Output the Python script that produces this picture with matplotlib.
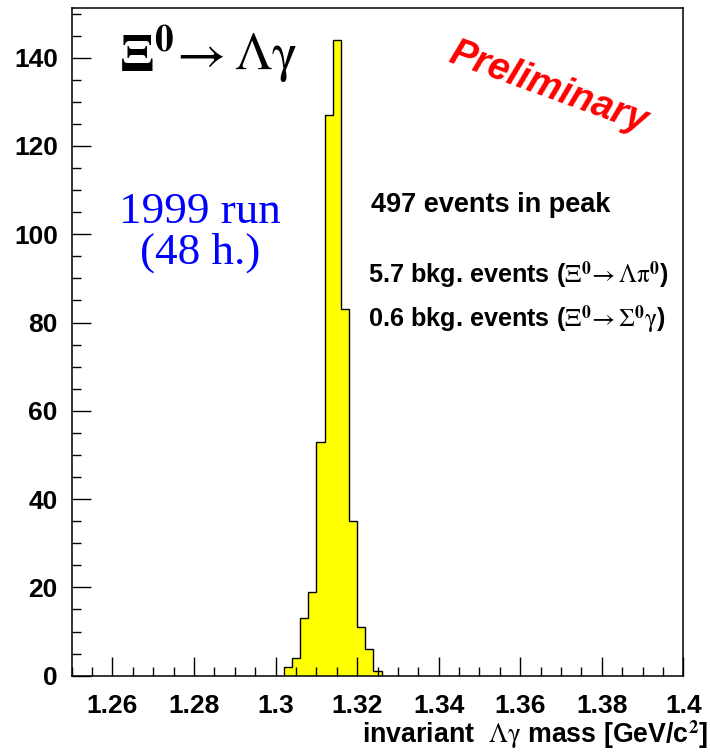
import numpy as np
import matplotlib
matplotlib.use("Agg")
from matplotlib import pyplot as plt
from matplotlib.ticker import MultipleLocator

plt.rcParams['font.family'] = ['Liberation Sans', 'DejaVu Sans']
plt.rcParams['mathtext.fontset'] = 'stix'

# histogram of the invariant mass (bins of 2 MeV)
bin_edges = [1.302, 1.304, 1.306, 1.308, 1.310, 1.312, 1.314,
             1.316, 1.318, 1.320, 1.322, 1.324, 1.326]
counts = [2, 4, 13, 19, 53, 127, 144, 83, 35, 11, 6, 1]

x_ticks = [1.26, 1.28, 1.30, 1.32, 1.34, 1.36, 1.38, 1.40]
x_tick_labels = ['1.26', '1.28', '1.3', '1.32', '1.34', '1.36', '1.38', '1.4']
y_ticks = [0, 20, 40, 60, 80, 100, 120, 140]

fig = plt.figure(figsize=(7.10, 7.53), dpi=100)
ax = fig.add_axes([0.101, 0.1027, 0.8614, 0.8863])

ax.stairs(counts, bin_edges, fill=True, facecolor='#ffff00',
          edgecolor='black', linewidth=1.0)

ax.set_xlim(1.25, 1.40)
ax.set_ylim(0, 151.2)

ax.set_xticks(x_ticks)
ax.set_xticklabels(x_tick_labels)
ax.set_yticks(y_ticks)
ax.xaxis.set_minor_locator(MultipleLocator(0.005))
ax.yaxis.set_minor_locator(MultipleLocator(5))
ax.tick_params(which='both', direction='in', width=1.0, labelsize=19)
ax.tick_params(which='major', length=13.5)
ax.tick_params(which='minor', length=6.8)
ax.tick_params(axis='x', pad=13)
ax.tick_params(axis='y', pad=10)
for lab in ax.get_xticklabels() + ax.get_yticklabels():
    lab.set_fontweight('bold')
for sp in ax.spines.values():
    sp.set_linewidth(1.1)

fig.text(0.997, 0.013, r'invariant  $\mathrm{\Lambda\gamma}$ mass [GeV/c$^{\mathbf{2}}$]',
         ha='right', va='baseline', fontsize=19.3, fontweight='bold')

# annotations
ax.text(0.078, 0.905, r'$\mathbf{\Xi}^{\mathsf{\mathbf{0}}}\!\rightarrow\mathrm{\Lambda\gamma}$',
        transform=ax.transAxes, fontsize=38.5, ha='left', va='baseline')
ax.text(0.21, 0.678, '1999 run', transform=ax.transAxes, fontsize=32.5,
        color='#0000ff', family='Liberation Serif', ha='center', va='baseline')
ax.text(0.21, 0.618, '(48 h.)', transform=ax.transAxes, fontsize=32.5,
        color='#0000ff', family='Liberation Serif', ha='center', va='baseline')
ax.text(0.779, 0.881, 'Preliminary', transform=ax.transAxes, fontsize=27.5,
        color='#ff0000', fontweight='bold', style='italic', rotation=-20,
        ha='center', va='center')
ax.text(0.49, 0.695, '497 events in peak', transform=ax.transAxes,
        fontsize=19.5, fontweight='bold', ha='left', va='baseline')
ax.text(0.485, 0.588, r'5.7 bkg. events ($\mathrm{\Xi}^{\mathbf{0}}\!\rightarrow\mathrm{\Lambda\pi}^{\mathbf{0}}$)',
        transform=ax.transAxes, fontsize=18.2, fontweight='bold',
        ha='left', va='baseline')
ax.text(0.485, 0.522, r'0.6 bkg. events ($\mathrm{\Xi}^{\mathbf{0}}\!\rightarrow\mathrm{\Sigma}^{\mathbf{0}}\mathrm{\gamma}$)',
        transform=ax.transAxes, fontsize=18.2, fontweight='bold',
        ha='left', va='baseline')

fig.savefig('out.png', dpi=100)
